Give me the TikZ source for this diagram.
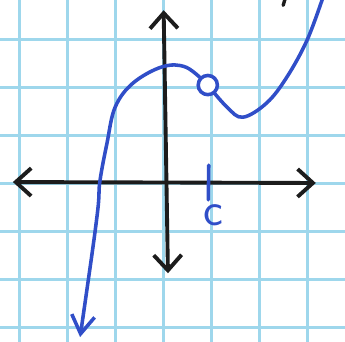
\documentclass[tikz,border=0pt]{standalone}
\usepackage{xcolor}
\usepackage{tikz}
\usetikzlibrary{arrows.meta,positioning}
\definecolor{gridblue}{RGB}{158,215,236}
\definecolor{penblue}{RGB}{48,78,200}
\definecolor{penblack}{RGB}{28,28,28}
\begin{document}
\begin{tikzpicture}[
    gridline/.style={draw=gridblue, line width=1.8pt},
    axis/.style={draw=penblack, line width=2.3pt, line cap=round, {Straight Barb[length=0.32cm, width=0.58cm, line width=2.3pt]}-{Straight Barb[length=0.32cm, width=0.58cm, line width=2.3pt]}},
    curve/.style={draw=penblue, line width=2.1pt, line cap=round, line join=round},
    hole/.style={circle, draw=penblue, line width=2.1pt, fill=white, minimum size=0.4cm, inner sep=0pt},
    lbl/.style={text=penblue, font=\fontsize{28}{28}\selectfont\sffamily, inner sep=0pt}
]
\clip (-3.479,-3.3125) rectangle (3.708,3.792);
\fill[white] (-3.479,-3.3125) rectangle (3.708,3.792);
\draw[gridline, xshift=-0.07cm, yshift=-0.04cm] (-5,-5) grid (5,5);

\coordinate (left) at (-3.21,0);
\coordinate (right) at (3.1,-0.02);
\coordinate (top) at (-0.07,3.58);
\coordinate (bottom) at (0.02,-1.9);
\coordinate (tickup) at (0.87,0.35);
\coordinate (tickdown) at (0.86,-0.37);

\draw[axis] (left) -- (right);
\draw[axis] (bottom) -- (top);

\draw[curve, {Straight Barb[length=0.38cm, width=0.48cm, line width=2.1pt]}-]
  plot[smooth, tension=0.6] coordinates {(-1.81,-3.23) (-1.46,-0.73) (-1.40,0) (-1.25,0.81) (-1.08,1.56) (-0.71,2.06) (-0.1,2.4) (0.4,2.39) (0.85,2.02)};
\draw[curve]
  plot[smooth, tension=0.6] coordinates {(0.85,2.02) (1.25,1.56) (1.58,1.35) (2.08,1.65) (2.5,2.19) (2.92,2.96) (3.25,3.85)};
\node[hole] (open) at (0.85,2.02) {};

\draw[curve] (tickup) -- (tickdown);
\node[lbl, below=0.1cm of tickdown, xshift=0.1cm] (c) {c};

\coordinate (markA) at (2.47,3.85);
\coordinate (markB) at (2.42,3.68);
\draw[penblack, line width=2pt, line cap=round] (markA) -- (markB);
\end{tikzpicture}
\end{document}
